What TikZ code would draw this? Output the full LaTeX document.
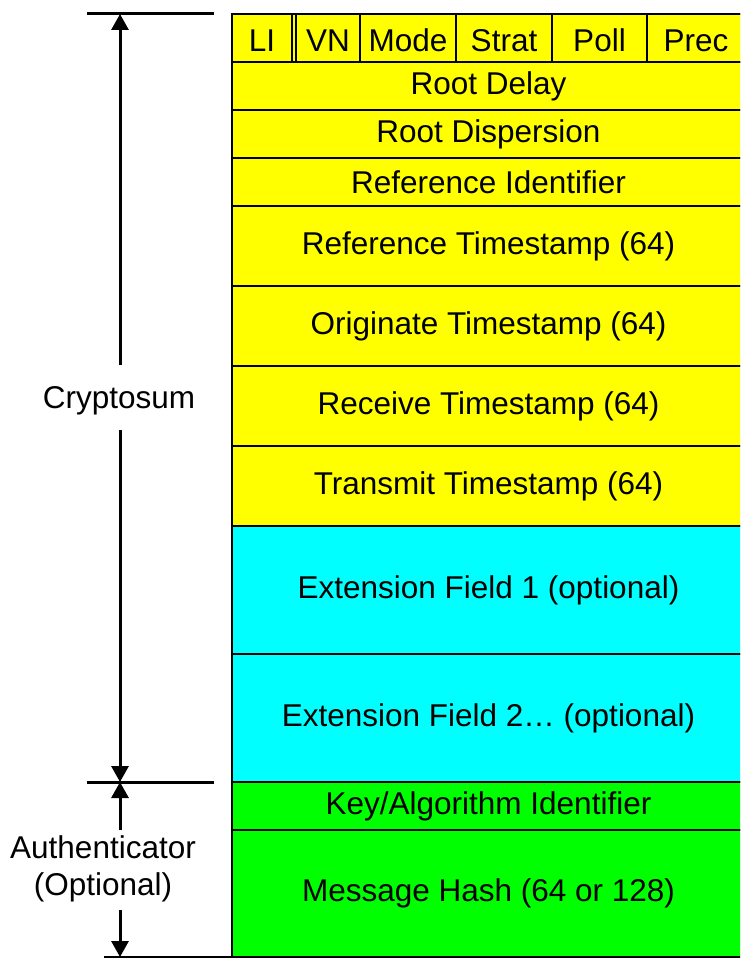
\documentclass[tikz,border=0pt]{standalone}
\usepackage{fontspec}
\setmainfont{Liberation Sans}
\usetikzlibrary{arrows.meta}
\definecolor{ntpyellow}{RGB}{255,255,0}
\definecolor{extcyan}{RGB}{0,255,255}
\definecolor{authgreen}{RGB}{0,255,0}
\newcommand{\lblfont}{\fontsize{31.5}{37}\selectfont}
\tikzset{
  field/.style={draw=black, line width=2.8pt, inner sep=0pt, font=\lblfont, align=center},
  hdrfield/.style={field, fill=ntpyellow},
  wordfield/.style={hdrfield, text depth=0pt, text height=28pt},
  extfield/.style={field, fill=extcyan},
  authfield/.style={field, fill=authgreen},
  tick/.style={line width=3pt},
  dimarrow/.style={line width=3pt, -{Triangle[width=17pt,length=16pt]}},
  sidelabel/.style={font=\lblfont, align=center, inner sep=0pt}
}
\begin{document}
\begin{tikzpicture}[x=1pt,y=-1pt]
\useasboundingbox (0,0) rectangle (740,958);
\clip (0,0) rectangle (740,958);

% first word: LI, VN, Mode, Stratum, Poll, Precision
\node[hdrfield, minimum width=513, minimum height=48] (hdr) at (488.5,38) {};
\node[wordfield, minimum width=60, minimum height=48] (li)    at (262,38)   {LI};
\node[wordfield, minimum width=64, minimum height=48] (vn)    at (328,38)   {VN};
\node[wordfield, minimum width=96, minimum height=48] (mode)  at (408,38)   {Mode};
\node[wordfield, minimum width=96, minimum height=48] (strat) at (504,38)   {Strat};
\node[wordfield, minimum width=95, minimum height=48] (poll)  at (599.5,38) {Poll};
\node[wordfield, minimum width=98, minimum height=48] (prec)  at (696,38)   {Prec};

% NTP header words and timestamps
\node[hdrfield, minimum width=513, minimum height=48] (rdelay) at (488.5,86)  {Root Delay};
\node[hdrfield, minimum width=513, minimum height=48] (rdisp)  at (488.5,134) {Root Dispersion};
\node[hdrfield, minimum width=513, minimum height=48] (refid)  at (488.5,182) {Reference Identifier};
\node[hdrfield, minimum width=513, minimum height=80] (refts)  at (488.5,246) {Reference Timestamp (64)};
\node[hdrfield, minimum width=513, minimum height=80] (orgts)  at (488.5,326) {Originate Timestamp (64)};
\node[hdrfield, minimum width=513, minimum height=80] (rcvts)  at (488.5,406) {Receive Timestamp (64)};
\node[hdrfield, minimum width=513, minimum height=80] (xmtts)  at (488.5,486) {Transmit Timestamp (64)};

% extension fields
\node[extfield, minimum width=513, minimum height=128] (ext1) at (488.5,590) {Extension Field 1 (optional)};
\node[extfield, minimum width=513, minimum height=128] (ext2) at (488.5,718) {Extension Field 2… (optional)};

% authenticator
\node[authfield, minimum width=513, minimum height=48]  (keyid) at (488.5,806)   {Key/Algorithm Identifier};
\node[authfield, minimum width=513, minimum height=127] (hash)  at (488.5,893.5) {Message Hash (64 or 128)};

% dimension ticks
\coordinate (ctopL) at (87,14);   \coordinate (ctopR) at (214,14);
\coordinate (cmidL) at (87,782);  \coordinate (cmidR) at (214,782);
\coordinate (cbotL) at (104,957); \coordinate (cbotR) at (232,957);
\draw[tick] (ctopL) -- (ctopR);
\draw[tick] (cmidL) -- (cmidR);
\draw[tick] (cbotL) -- (cbotR);

% cryptosum span
\node[sidelabel] (crypt) at (119,401) {Cryptosum};
\coordinate (cryptUp)   at (120,365);
\coordinate (cryptDown) at (120,430);
\coordinate (cryptTop)  at (120,14);
\coordinate (cryptBot)  at (120,782);
\draw[dimarrow] (cryptUp) -- (cryptTop);
\draw[dimarrow] (cryptDown) -- (cryptBot);

% authenticator span
\node[sidelabel] (auth) at (103,869) {Authenticator\\(Optional)};
\coordinate (authUp)   at (120,830);
\coordinate (authDown) at (120,910);
\coordinate (authTop)  at (120,782);
\coordinate (authBot)  at (120,957);
\draw[dimarrow] (authUp) -- (authTop);
\draw[dimarrow] (authDown) -- (authBot);
\end{tikzpicture}
\end{document}
